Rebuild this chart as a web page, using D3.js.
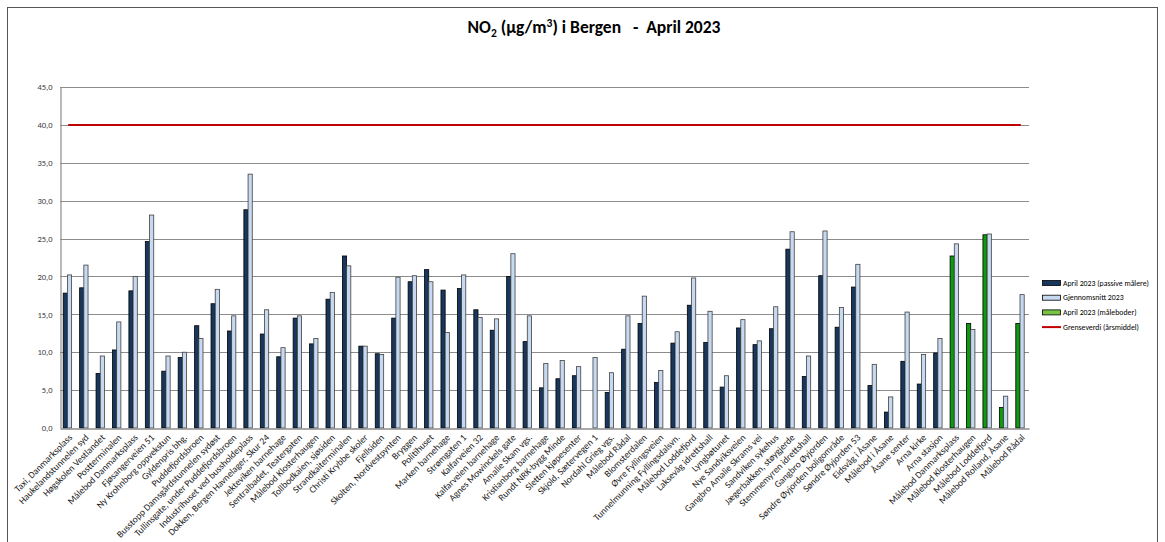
<!DOCTYPE html>
<html>
<head>
<meta charset="utf-8">
<script src="https://cdn.jsdelivr.net/npm/d3@7"></script>
<style>
  html, body { margin: 0; padding: 0; background: #fff; }
  svg { display: block; font-family: Carlito, "Liberation Sans", Arial, sans-serif; }
</style>
</head>
<body>
<svg id="chart" width="1165" height="542"></svg>
<script>
const categories = [
  "Taxi, Danmarksplass", "Haukelandstunnelen syd", "Høgskolen Vestlandet", "Postterminalen",
  "Målebod Danmarksplass", "Fjøsangerveien 51", "Ny Krohnborg oppvekstun", "Gyldenpris bhg.",
  "Puddefjordsbroen", "Busstopp Damsgårdstunnelen sydøst", "Tullinsgate, under Puddefjordsbroen",
  "Industrihuset ved bussholdeplass", "Dokken, Bergen Havnelager, Skur 24", "Jekteviken barnehage",
  "Sentralbadet, Teatergaten", "Målebod Klosterhaugen", "Tollbodkaien, sjøsiden", "Strandkaiterminalen",
  "Christi Krybbe skoler", "Fjellsiden", "Skolten, Nordvestpynten", "Bryggen", "Politihuset",
  "Marken barnehage", "Strømgaten 1", "Kalfarveien 32", "Kalfarveien barnehage",
  "Agnes Mowinckels gate", "Amalie Skam vgs.", "Kristianborg barnehage", "Rundt NRK-bygg Minde",
  "Sletten kjøpesenter", "Skjold, Sætervegen 1", "Nordahl Grieg vgs.", "Målebod Rådal",
  "Blomsterdalen", "Øvre Fyllingsveien", "Tunnelmunning Fyllingsdalsvn.", "Målebod Loddefjord",
  "Laksevåg idrettshall", "Lyngbøtunet", "Nye Sandviksveien", "Gangbro Amalie Skrams vei",
  "Sandviken sykehus", "Jægerbakken, støygjerde", "Stemmemyren idrettshall", "Gangbro Øyjorden",
  "Søndre Øyjorden boligområde", "Søndre  Øyjorden 53", "Eidsvåg i Åsane", "Målebod i Åsane",
  "Åsane senter", "Arna kirke", "Arna stasjon", "Målebod Danmarksplass", "Målebod Klosterhaugen",
  "Målebod Loddefjord", "Målebod Rolland, Åsane", "Målebod Rådal"
];

// April 2023 (passive målere)
const aprilPassive = [
  17.8, 18.5, 7.2, 10.3, 18.1, 24.6, 7.5, 9.3, 13.5, 16.4,
  12.8, 28.8, 12.4, 9.4, 14.5, 11.1, 17.0, 22.7, 10.8, 9.8,
  14.5, 19.3, 20.9, 18.2, 18.4, 15.6, 12.9, 20.0, 11.4, 5.3,
  6.5, 6.9, null, 4.7, 10.4, 13.8, 6.0, 11.2, 16.2, 11.3,
  5.4, 13.2, 11.0, 13.1, 23.6, 6.8, 20.1, 13.3, 18.6, 5.6,
  2.1, 8.8, 5.8, 9.9, null, null, null, null, null
];

// Gjennomsnitt 2023
const average2023 = [
  20.2, 21.5, 9.5, 14.0, 20.0, 28.1, 9.5, 10.0, 11.8, 18.3,
  14.8, 33.5, 15.6, 10.6, 14.8, 11.8, 17.9, 21.4, 10.8, 9.7,
  19.9, 20.1, 19.3, 12.6, 20.2, 14.6, 14.4, 23.0, 14.8, 8.5,
  8.9, 8.1, 9.3, 7.3, 14.8, 17.4, 7.6, 12.7, 19.8, 15.4,
  6.9, 14.3, 11.5, 16.0, 25.9, 9.5, 26.0, 15.9, 21.6, 8.4,
  4.1, 15.3, 9.7, 11.8, 24.3, 13.0, 25.6, 4.2, 17.6
];

// April 2023 (måleboder)
const aprilStations = [
  null, null, null, null, null, null, null, null, null, null,
  null, null, null, null, null, null, null, null, null, null,
  null, null, null, null, null, null, null, null, null, null,
  null, null, null, null, null, null, null, null, null, null,
  null, null, null, null, null, null, null, null, null, null,
  null, null, null, null, 22.7, 13.8, 25.5, 2.7, 13.8
];

// Grenseverdi (årsmiddel)
const limitValue = 40;

const yTicks = [0, 5, 10, 15, 20, 25, 30, 35, 40, 45];

const legendItems = [
  { label: "April 2023 (passive målere)", type: "rect", fill: "#17375E", stroke: "#000" },
  { label: "Gjennomsnitt 2023", type: "rect", fill: "#C6D9F1", stroke: "#000" },
  { label: "April 2023 (måleboder)", type: "rect", fill: "#77C344", stroke: "#000" },
  { label: "Grenseverdi (årsmiddel)", type: "line", stroke: "#C00000" }
];

const FONT = "Carlito, 'Liberation Sans', Arial, sans-serif";
const svg = d3.select("#chart");

// outer frame
svg.append("rect")
  .attr("x", 7.5).attr("y", 7.5)
  .attr("width", 1150).attr("height", 545)
  .attr("fill", "#fff").attr("stroke", "#555").attr("stroke-width", 1);

// title
const title = svg.append("text")
  .attr("x", 594).attr("y", 33)
  .attr("text-anchor", "middle")
  .attr("font-size", 17.5).attr("font-weight", "bold").attr("fill", "#000");
title.append("tspan").text("NO");
title.append("tspan").attr("font-size", 11.5).attr("dy", 4).text("2");
title.append("tspan").attr("dy", -4).text(" (µg/m");
title.append("tspan").attr("font-size", 11.5).attr("dy", -6).text("3");
title.append("tspan").attr("dy", 6).text(")\u00a0i Bergen \u00a0\u00a0-\u00a0\u00a0April 2023");

const plotLeft = 60, plotRight = 1029, plotTop = 87, plotBottom = 428;

const x = d3.scaleBand()
  .domain(d3.range(categories.length))
  .range([plotLeft, plotRight])
  .paddingInner(0).paddingOuter(0);

const y = d3.scaleLinear().domain([0, 45]).range([plotBottom, plotTop]);

// gridlines
svg.append("g")
  .selectAll("line")
  .data(yTicks.filter(d => d > 0))
  .join("line")
  .attr("x1", plotLeft).attr("x2", plotRight)
  .attr("y1", d => Math.round(y(d)) + 0.5).attr("y2", d => Math.round(y(d)) + 0.5)
  .attr("stroke", "#8c8c8c").attr("stroke-width", 1.2);

// y axis
const yAxis = d3.axisLeft(y)
  .tickValues(yTicks)
  .tickSize(0)
  .tickPadding(8)
  .tickFormat(d => d3.format(".1f")(d).replace(".", ","));
const gy = svg.append("g").attr("transform", `translate(${plotLeft + 0.5},0)`).call(yAxis);
gy.select(".domain").attr("stroke", "#8c8c8c").attr("stroke-width", 1.2);
gy.selectAll("text").attr("font-size", 8.5).attr("fill", "#404040")
  .attr("font-family", FONT);

// bars
const bw = 4.2;
const bars = svg.append("g");
categories.forEach((c, i) => {
  const cx = x(i) + x.bandwidth() / 2 - 0.8;
  const first = aprilPassive[i] != null ? { v: aprilPassive[i], fill: "#17375E", stroke: "#000" }
    : (aprilStations[i] != null ? { v: aprilStations[i], fill: "#0E9A0E", stroke: "#000" } : null);
  if (first) {
    bars.append("rect")
      .attr("x", cx - bw).attr("width", bw)
      .attr("y", y(first.v)).attr("height", y(0) - y(first.v))
      .attr("fill", first.fill).attr("stroke", first.stroke).attr("stroke-width", 0.8);
  }
  if (average2023[i] != null) {
    bars.append("rect")
      .attr("x", cx).attr("width", bw)
      .attr("y", y(average2023[i])).attr("height", y(0) - y(average2023[i]))
      .attr("fill", "#C6D9F1").attr("stroke", "#404040").attr("stroke-width", 0.8);
  }
});

// limit line
const lineData = categories.map((c, i) => ({ i, v: limitValue }));
svg.append("path")
  .datum(lineData)
  .attr("fill", "none")
  .attr("stroke", "#C00000").attr("stroke-width", 2)
  .attr("d", d3.line().x(d => x(d.i) + x.bandwidth() / 2).y(d => y(d.v)));

// x axis
const xAxis = d3.axisBottom(x).tickSize(0).tickFormat(i => categories[i]);
const gx = svg.append("g").attr("transform", `translate(0,${plotBottom + 0.5})`).call(xAxis);
gx.select(".domain").attr("stroke", "#8c8c8c").attr("stroke-width", 1.5);
gx.selectAll("text")
  .attr("font-size", 9.5)
  .style("fill", "#1a1a1a")
  .attr("font-family", FONT)
  .attr("text-anchor", "end")
  .attr("dy", null).attr("y", 0)
  .attr("transform", "translate(3,8) rotate(-45)")
  .attr("dominant-baseline", "middle");

// legend
const lg = svg.append("g").attr("transform", "translate(1042,283)");
legendItems.forEach((d, k) => {
  const g = lg.append("g").attr("transform", `translate(0,${k * 14.7})`);
  if (d.type === "rect") {
    g.append("rect").attr("x", 0.5).attr("y", -2.5).attr("width", 18).attr("height", 5)
      .attr("fill", d.fill).attr("stroke", d.stroke).attr("stroke-width", 0.8);
  } else {
    g.append("line").attr("x1", 0).attr("x2", 19).attr("y1", 0).attr("y2", 0)
      .attr("stroke", d.stroke).attr("stroke-width", 2);
  }
  g.append("text").attr("x", 21).attr("y", 0).attr("dy", "0.35em")
    .attr("font-size", 7.8).attr("fill", "#000").text(d.label);
});
</script>
</body>
</html>
